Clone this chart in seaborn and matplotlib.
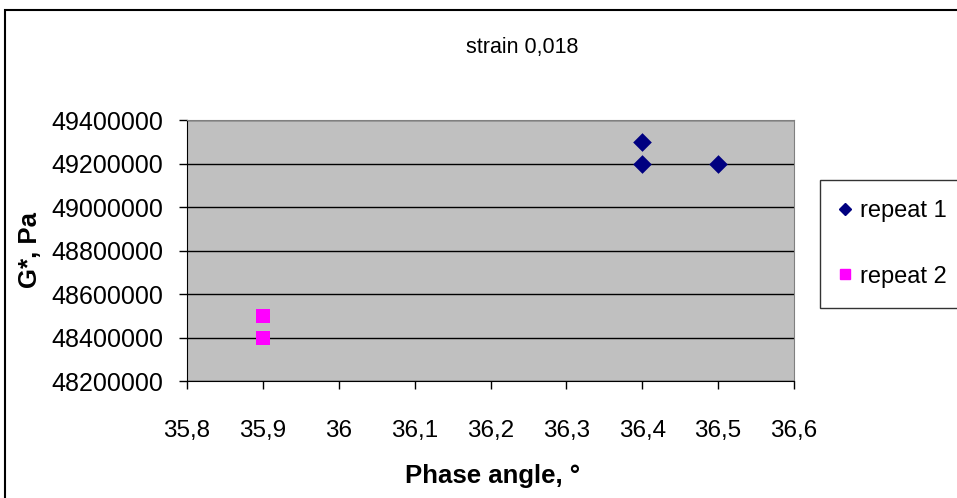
import matplotlib
matplotlib.use("Agg")
import matplotlib.pyplot as plt
from matplotlib.lines import Line2D
from matplotlib.patches import Rectangle
import pandas as pd
import seaborn as sns

# data
phase_r1 = [36.4, 36.4, 36.5]
g_r1 = [49300000, 49200000, 49200000]
phase_r2 = [35.9, 35.9]
g_r2 = [48500000, 48400000]
x_ticks = [35.8, 35.9, 36.0, 36.1, 36.2, 36.3, 36.4, 36.5, 36.6]
x_labels = ["35,8", "35,9", "36", "36,1", "36,2", "36,3", "36,4", "36,5", "36,6"]
y_ticks = [48200000, 48400000, 48600000, 48800000, 49000000, 49200000, 49400000]

df1 = pd.DataFrame({"phase": phase_r1, "g": g_r1})
df2 = pd.DataFrame({"phase": phase_r2, "g": g_r2})

plt.rcParams['font.family'] = ['Liberation Sans', 'DejaVu Sans']

fig = plt.figure(figsize=(9.57, 4.98), dpi=100)
W, H = 957, 498
ax = fig.add_axes([187 / W, 1 - 381 / H, (794 - 187) / W, (381 - 120) / H])
ax.set_facecolor("#C0C0C0")

sns.scatterplot(data=df1, x="phase", y="g", marker="D", color="#000080",
                s=9.5 ** 2, linewidth=0, ax=ax, zorder=3)
sns.scatterplot(data=df2, x="phase", y="g", marker="s", color="#FF00FF",
                s=9.4 ** 2, linewidth=0, ax=ax, zorder=3)

ax.set_xlim(35.8, 36.6)
ax.set_ylim(48200000, 49400000)
ax.set_xticks(x_ticks)
ax.set_xticklabels(x_labels, fontsize=17.5)
ax.set_yticks(y_ticks)
ax.set_yticklabels([str(v) for v in y_ticks], fontsize=18)
ax.yaxis.grid(True, color="black", linewidth=1)
ax.set_axisbelow(True)
ax.tick_params(axis="both", direction="out", length=6, width=1, color="black")
ax.tick_params(axis="x", pad=22)
ax.tick_params(axis="y", pad=11)
for side in ["top", "right"]:
    ax.spines[side].set_color("#808080")
for side in ["left", "bottom"]:
    ax.spines[side].set_color("black")
ax.set_xlabel("")
ax.set_ylabel("")

fig.text(522 / W, 1 - 48 / H, "strain 0,018", ha="center", va="center", fontsize=15.5)
fig.text(493 / W, 1 - 476 / H, "Phase angle, °", ha="center", va="center",
         fontsize=18.5, fontweight="bold")
fig.text(30 / W, 1 - 250 / H, "G*, Pa", ha="center", va="center", rotation=90,
         fontsize=18.5, fontweight="bold")

# outer chart frame
fig.patches.append(Rectangle((5 / W, -0.1), 1.2, 1 - 10 / H + 0.1,
                             transform=fig.transFigure, fill=False,
                             edgecolor="black", linewidth=1.5))

handles = [
    Line2D([], [], linestyle="none", marker="D", color="#000080", markersize=6),
    Line2D([], [], linestyle="none", marker="s", color="#FF00FF", markersize=7.5),
]
leg = fig.legend(handles, ["repeat 1", "repeat 2"], loc="upper left",
                 bbox_to_anchor=(820 / W, 1 - 180 / H), fontsize=17,
                 frameon=True, fancybox=False, edgecolor="black",
                 labelspacing=1.85, borderpad=0.85, handlelength=0.4,
                 handletextpad=0.45, borderaxespad=0)
leg.get_frame().set_linewidth(1)

fig.savefig("out.png", dpi=100)
